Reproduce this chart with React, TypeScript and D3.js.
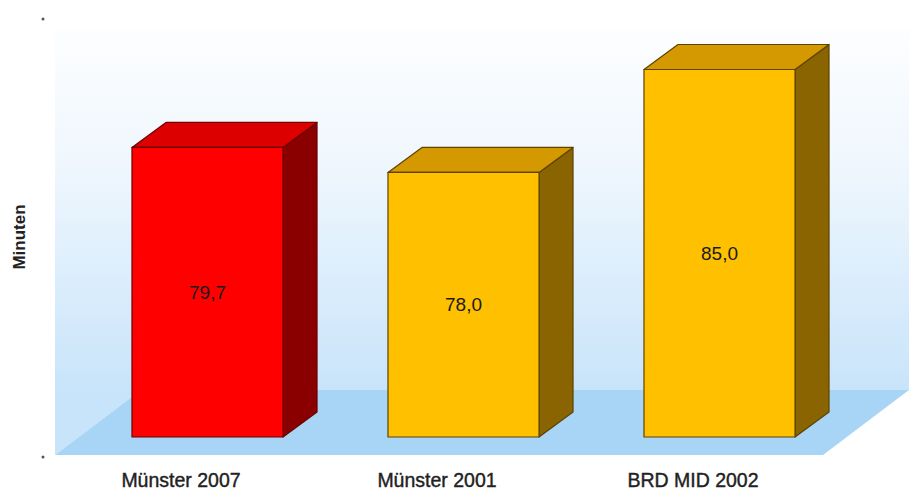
import React from "react";
import * as d3 from "d3";

// Travel time per day (minutes)
const categories = ["Münster 2007", "Münster 2001", "BRD MID 2002"];
const values = [79.7, 78.0, 85.0];
const barColors = ["red", "gold", "gold"];
const yTicks = [60, 90];
const yTitle = "Minuten";

const W = 917;
const H = 491;

const palette: Record<string, { front: string; top: string; side: string; stroke: string }> = {
  red: { front: "#ff0000", top: "#dc0000", side: "#8a0000", stroke: "#6e0000" },
  gold: { front: "#ffc000", top: "#d49800", side: "#8a6400", stroke: "#5e4300" },
};

const fmt = d3.formatLocale({ decimal: ",", thousands: ".", grouping: [3], currency: ["", " €"] }).format(".1f");

export default function App() {
  // floor / wall geometry (oblique projection)
  const floorLeft = 55;
  const floorRight = 823;
  const floorFrontY = 455;
  const floorDepth = { dx: 86, dy: -65 };
  const wallTop = 28;
  const barOffset = { dx: 24.5, dy: -18 }; // bar front plane relative to floor front
  const barDepth = { dx: 34, dy: -25 };

  const x = d3.scaleBand<string>().domain(categories).range([floorLeft, floorRight]).padding(0);
  const barW = x.bandwidth() * 0.59;

  const baseY = floorFrontY + barOffset.dy;
  const y = d3.scaleLinear().domain([60, 90]).range([baseY, baseY - 30 * 14.7]);
  const yAxis = d3.scaleLinear().domain([60, 90]).range([457, 19]);

  const floorPts = [
    [floorLeft, floorFrontY],
    [floorRight, floorFrontY],
    [floorRight + floorDepth.dx, floorFrontY + floorDepth.dy],
    [floorLeft + floorDepth.dx, floorFrontY + floorDepth.dy],
  ];
  const line = d3.line();

  return (
    <div style={{ position: "fixed", left: 0, top: 0, width: W, height: H, background: "#fff" }}>
      <svg width={W} height={H} style={{ display: "block" }} fontFamily="'Liberation Sans', Arial, sans-serif">
        <defs>
          <linearGradient id="wallGrad" x1="0" y1="0" x2="0" y2="1">
            <stop offset="0" stopColor="#fdfeff" />
            <stop offset="0.4" stopColor="#eef6fd" />
            <stop offset="1" stopColor="#c8e4fa" />
          </linearGradient>
        </defs>

        {/* back and side walls */}
        <rect
          x={floorLeft}
          y={wallTop}
          width={floorRight + floorDepth.dx - floorLeft}
          height={floorFrontY + floorDepth.dy - wallTop}
          fill="url(#wallGrad)"
        />
        <path
          d={line([
            [floorLeft, floorFrontY + floorDepth.dy],
            [floorLeft + floorDepth.dx, floorFrontY + floorDepth.dy],
            [floorLeft, floorFrontY],
          ] as [number, number][]) + "Z"}
          fill="#c8e4fa"
        />
        {/* floor */}
        <path d={line(floorPts as [number, number][]) + "Z"} fill="#a8d4f6" />

        {/* axis tick marks */}
        {yTicks.map((t) => (
          <circle key={t} cx={43} cy={yAxis(t)} r={1.5} fill="#555" />
        ))}

        {/* axis title */}
        <text
          transform={`translate(25,237) rotate(-90)`}
          textAnchor="middle"
          fontSize={17}
          fontWeight="bold"
          fill="#222"
        >
          {yTitle}
        </text>

        {/* 3D bars */}
        {categories.map((c, i) => {
          const col = palette[barColors[i]];
          const cx = (x(c) ?? 0) + x.bandwidth() / 2 + barOffset.dx;
          const x0 = cx - barW / 2;
          const x1 = cx + barW / 2;
          const yTop = y(values[i]);
          const yBot = y(60);
          const { dx, dy } = barDepth;
          const front: [number, number][] = [
            [x0, yTop],
            [x1, yTop],
            [x1, yBot],
            [x0, yBot],
          ];
          const top: [number, number][] = [
            [x0, yTop],
            [x0 + dx, yTop + dy],
            [x1 + dx, yTop + dy],
            [x1, yTop],
          ];
          const side: [number, number][] = [
            [x1, yTop],
            [x1 + dx, yTop + dy],
            [x1 + dx, yBot + dy],
            [x1, yBot],
          ];
          return (
            <g key={c} strokeWidth={1.2} stroke={col.stroke} strokeLinejoin="round">
              <path d={line(side) + "Z"} fill={col.side} />
              <path d={line(top) + "Z"} fill={col.top} />
              <path d={line(front) + "Z"} fill={col.front} />
              <text
                x={cx}
                y={(yTop + yBot) / 2}
                dy="0.35em"
                textAnchor="middle"
                fontSize={19}
                fill="#1a1a1a"
                stroke="none"
              >
                {fmt(values[i])}
              </text>
            </g>
          );
        })}

        {/* category labels */}
        {categories.map((c) => (
          <text
            key={c}
            x={(x(c) ?? 0) + x.bandwidth() / 2 - 2}
            y={487}
            textAnchor="middle"
            fontSize={19.5}
            fill="#222"
            stroke="#222"
            strokeWidth={0.4}
          >
            {c}
          </text>
        ))}
      </svg>
    </div>
  );
}
